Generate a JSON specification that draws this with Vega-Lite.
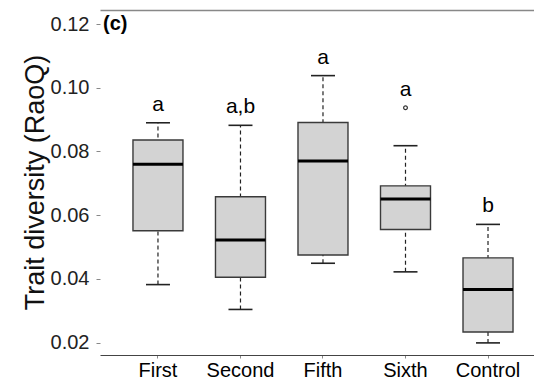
{
  "$schema": "https://vega.github.io/schema/vega-lite/v6.json",
  "width": 434,
  "height": 345,
  "autosize": "none",
  "padding": {"left": 100, "top": 10, "right": 0, "bottom": 24},
  "background": "white",
  "config": {
    "font": "Liberation Sans",
    "view": {"stroke": null},
    "axis": {"grid": false}
  },
  "title": {
    "text": "(c)",
    "anchor": "start",
    "frame": "group",
    "offset": 0,
    "dy": 24,
    "dx": 3,
    "fontSize": 20,
    "fontWeight": "bold",
    "color": "#000"
  },
  "datasets": {
    "boxes": [
      {"group": "First", "lower": 0.0382, "q1": 0.0551, "median": 0.0760, "q3": 0.0836, "upper": 0.0890, "max": 0.0890, "letter": "a"},
      {"group": "Second", "lower": 0.0304, "q1": 0.0405, "median": 0.0522, "q3": 0.0658, "upper": 0.0882, "max": 0.0882, "letter": "a,b"},
      {"group": "Fifth", "lower": 0.0449, "q1": 0.0475, "median": 0.0770, "q3": 0.0891, "upper": 0.1038, "max": 0.1038, "letter": "a"},
      {"group": "Sixth", "lower": 0.0422, "q1": 0.0555, "median": 0.0651, "q3": 0.0692, "upper": 0.0818, "max": 0.0937, "letter": "a"},
      {"group": "Control", "lower": 0.0199, "q1": 0.0233, "median": 0.0367, "q3": 0.0466, "upper": 0.0571, "max": 0.0571, "letter": "b"}
    ],
    "outliers": [
      {"group": "Sixth", "value": 0.0937}
    ]
  },
  "data": {"name": "boxes"},
  "resolve": {"axis": {"x": "independent"}},
  "layer": [
    {
      "mark": {"type": "rule", "color": "#222", "strokeWidth": 1.2, "strokeDash": [4, 3]},
      "encoding": {
        "x": {
          "field": "group", "type": "nominal", "sort": ["First", "Second", "Fifth", "Sixth", "Control"],
          "scale": {"paddingInner": 0.394, "paddingOuter": 0.327, "align": 0.611},
          "axis": {"orient": "bottom", "title": null, "labelAngle": 0, "labelFontSize": 20, "labelColor": "#000", "tickSize": 3, "tickColor": "#888", "domainColor": "#444", "domainWidth": 1.2, "labelPadding": 2}
        },
        "y": {
          "field": "lower", "type": "quantitative",
          "scale": {"domain": [0.0161, 0.1244], "nice": false, "zero": false},
          "axis": {"values": [0.02, 0.04, 0.06, 0.08, 0.10, 0.12], "format": ".2f", "domain": false, "labelFontSize": 20, "labelColor": "#222", "tickColor": "#888", "tickSize": 4, "labelPadding": 7, "title": "Trait diversity (RaoQ)", "titleFontSize": 27, "titleFontWeight": "normal", "titleColor": "#111", "titleX": -57, "titleY": 172, "titleAngle": -90, "titleBaseline": "alphabetic", "titleAlign": "center"}
        },
        "y2": {"field": "upper"}
      }
    },
    {
      "mark": {"type": "tick", "color": "#222", "opacity": 1, "thickness": 1.6, "size": 24},
      "encoding": {
        "x": {"field": "group", "type": "nominal", "sort": ["First", "Second", "Fifth", "Sixth", "Control"],
          "axis": {"orient": "top", "labels": false, "ticks": false, "title": null, "domainColor": "#888", "domainWidth": 1.5}},
        "y": {"field": "lower", "type": "quantitative"}
      }
    },
    {
      "mark": {"type": "tick", "color": "#222", "opacity": 1, "thickness": 1.6, "size": 24},
      "encoding": {
        "x": {"field": "group", "type": "nominal", "sort": ["First", "Second", "Fifth", "Sixth", "Control"], "axis": null},
        "y": {"field": "upper", "type": "quantitative"}
      }
    },
    {
      "mark": {"type": "bar", "fill": "#d3d3d3", "stroke": "#3a3a3a", "strokeWidth": 1.4, "opacity": 1},
      "encoding": {
        "x": {"field": "group", "type": "nominal", "sort": ["First", "Second", "Fifth", "Sixth", "Control"], "axis": null},
        "y": {"field": "q1", "type": "quantitative"},
        "y2": {"field": "q3"}
      }
    },
    {
      "mark": {"type": "tick", "color": "#000", "opacity": 1, "thickness": 3, "size": 50},
      "encoding": {
        "x": {"field": "group", "type": "nominal", "sort": ["First", "Second", "Fifth", "Sixth", "Control"], "axis": null},
        "y": {"field": "median", "type": "quantitative"}
      }
    },
    {
      "data": {"name": "outliers"},
      "mark": {"type": "point", "shape": "circle", "filled": false, "stroke": "#333", "opacity": 1, "strokeWidth": 1.2, "size": 14},
      "encoding": {
        "x": {"field": "group", "type": "nominal", "sort": ["First", "Second", "Fifth", "Sixth", "Control"], "axis": null},
        "y": {"field": "value", "type": "quantitative"}
      }
    },
    {
      "mark": {"type": "text", "fontSize": 21, "color": "#000", "baseline": "alphabetic", "dy": -12},
      "encoding": {
        "x": {"field": "group", "type": "nominal", "sort": ["First", "Second", "Fifth", "Sixth", "Control"], "axis": null},
        "y": {"field": "max", "type": "quantitative"},
        "text": {"field": "letter"}
      }
    }
  ]
}
